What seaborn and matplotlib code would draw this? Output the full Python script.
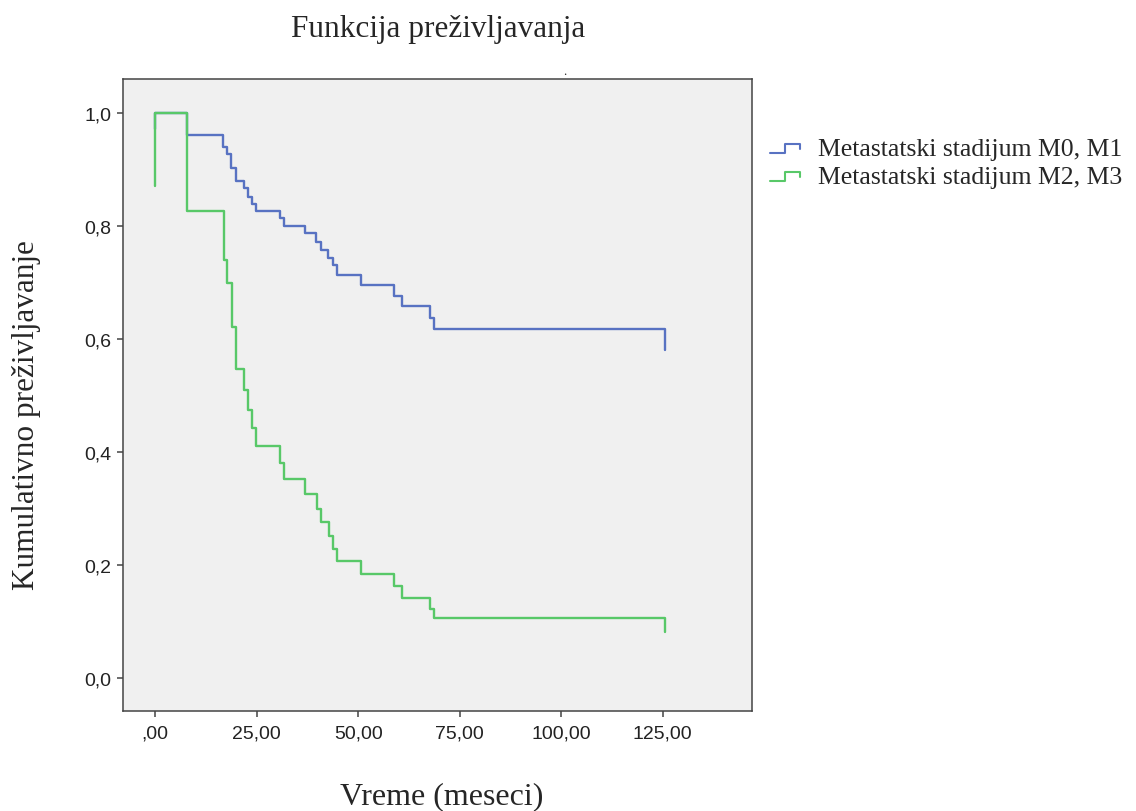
import matplotlib
matplotlib.use("Agg")
import matplotlib.pyplot as plt
from matplotlib.legend_handler import HandlerBase
from matplotlib.lines import Line2D
import pandas as pd
import seaborn as sns

# Kaplan-Meier estimates (time in months, cumulative survival)
m01_time = [0, 0, 7.8, 16.8, 17.8, 18.7, 19.9, 21.8, 22.8, 23.8, 24.8, 30.8, 31.8,
            36.8, 39.7, 40.8, 42.7, 43.7, 44.7, 50.7, 58.9, 60.7, 67.6, 68.7, 125.5]
m01_surv = [0.972, 1.0, 0.961, 0.939, 0.927, 0.903, 0.880, 0.867, 0.852, 0.839, 0.826,
            0.814, 0.800, 0.787, 0.772, 0.758, 0.744, 0.731, 0.713, 0.696, 0.677,
            0.658, 0.638, 0.618, 0.580]

m23_time = [0, 0, 7.8, 17.0, 17.8, 18.9, 19.9, 22.0, 22.8, 23.8, 24.8, 30.8, 31.8,
            36.8, 39.8, 40.8, 42.9, 43.8, 44.7, 50.7, 58.9, 60.7, 67.6, 68.8, 125.5]
m23_surv = [0.871, 1.0, 0.826, 0.740, 0.700, 0.622, 0.547, 0.510, 0.474, 0.442, 0.410,
            0.381, 0.352, 0.326, 0.299, 0.276, 0.252, 0.229, 0.208, 0.185, 0.163,
            0.142, 0.123, 0.106, 0.081]

group_labels = ["Metastatski stadijum M0, M1", "Metastatski stadijum M2, M3"]
group_colors = ["#5872C2", "#58C868"]

x_ticks = [0, 25, 50, 75, 100, 125]
x_tick_labels = [",00", "25,00", "50,00", "75,00", "100,00", "125,00"]
y_ticks = [0.0, 0.2, 0.4, 0.6, 0.8, 1.0]
y_tick_labels = ["0,0", "0,2", "0,4", "0,6", "0,8", "1,0"]

sns.set_theme(style="ticks", rc={
    "axes.facecolor": "#F0F0F0",
    "axes.edgecolor": "#444444",
    "axes.linewidth": 1.1,
    "xtick.color": "#444444",
    "ytick.color": "#444444",
    "xtick.major.size": 4.5,
    "ytick.major.size": 4.5,
    "xtick.major.width": 1.1,
    "ytick.major.width": 1.1,
})
plt.rcParams["font.family"] = ["Liberation Sans", "DejaVu Sans"]

df = pd.concat([
    pd.DataFrame({"time": m01_time, "surv": m01_surv, "group": group_labels[0]}),
    pd.DataFrame({"time": m23_time, "surv": m23_surv, "group": group_labels[1]}),
], ignore_index=True)

fig = plt.figure(figsize=(11.36, 8.12), dpi=100)
ax = fig.add_axes([123 / 1136, 100 / 812, 629 / 1136, 632 / 812])

for label, color in zip(group_labels, group_colors):
    sub = df[df["group"] == label]
    sns.lineplot(data=sub, x="time", y="surv", ax=ax, color=color,
                 estimator=None, sort=False, drawstyle="steps-post",
                 linewidth=1.7, legend=False)

ax.set_xlim(-7.9, 147)
ax.set_ylim(-0.058, 1.06)
ax.set_xticks(x_ticks)
ax.set_xticklabels(x_tick_labels, fontsize=14, color="#222222")
ax.set_yticks(y_ticks)
ax.set_yticklabels(y_tick_labels, fontsize=14, color="#222222")
ax.set_xlabel("")
ax.set_ylabel("")
ax.tick_params(axis="x", pad=5)
ax.tick_params(axis="y", pad=4)


class StepHandler(HandlerBase):
    def create_artists(self, legend, orig_handle, xdescent, ydescent,
                       width, height, fontsize, trans):
        xs = [0.0, 0.45 * width, 0.45 * width, 0.9 * width, 0.9 * width]
        ys = [0.1 * height, 0.1 * height, 0.6 * height, 0.6 * height, 0.35 * height]
        line = Line2D([x - xdescent for x in xs], [y - ydescent for y in ys],
                      color=orig_handle.get_color(), linewidth=1.5, transform=trans)
        return [line]


handles = [Line2D([], [], color=c) for c in group_colors]
serif = ["Liberation Serif", "DejaVu Serif"]
leg = fig.legend(handles, group_labels, handler_map={Line2D: StepHandler()},
                 loc="upper left", bbox_to_anchor=(770 / 1136, 1 - 138 / 812),
                 frameon=False, prop={"family": serif, "size": 18.5},
                 handlelength=1.3, handletextpad=0.55, labelspacing=0.2,
                 borderaxespad=0, borderpad=0)

fig.text(438 / 1136, 1 - 30 / 812, "Funkcija preživljavanja", ha="center",
         va="center", fontsize=22.5, family=serif)
fig.text(442 / 1136, 1 - 797 / 812, "Vreme (meseci)", ha="center",
         va="center", fontsize=23, family=serif)
fig.text(27 / 1136, 1 - 415 / 812, "Kumulativno preživljavanje", ha="center",
         va="center", rotation=90, fontsize=22.5, family=serif)
fig.text(565 / 1136, 1 - 72 / 812, ".", ha="center", va="center",
         fontsize=9, family=serif)

fig.savefig("out.png", dpi=100)
